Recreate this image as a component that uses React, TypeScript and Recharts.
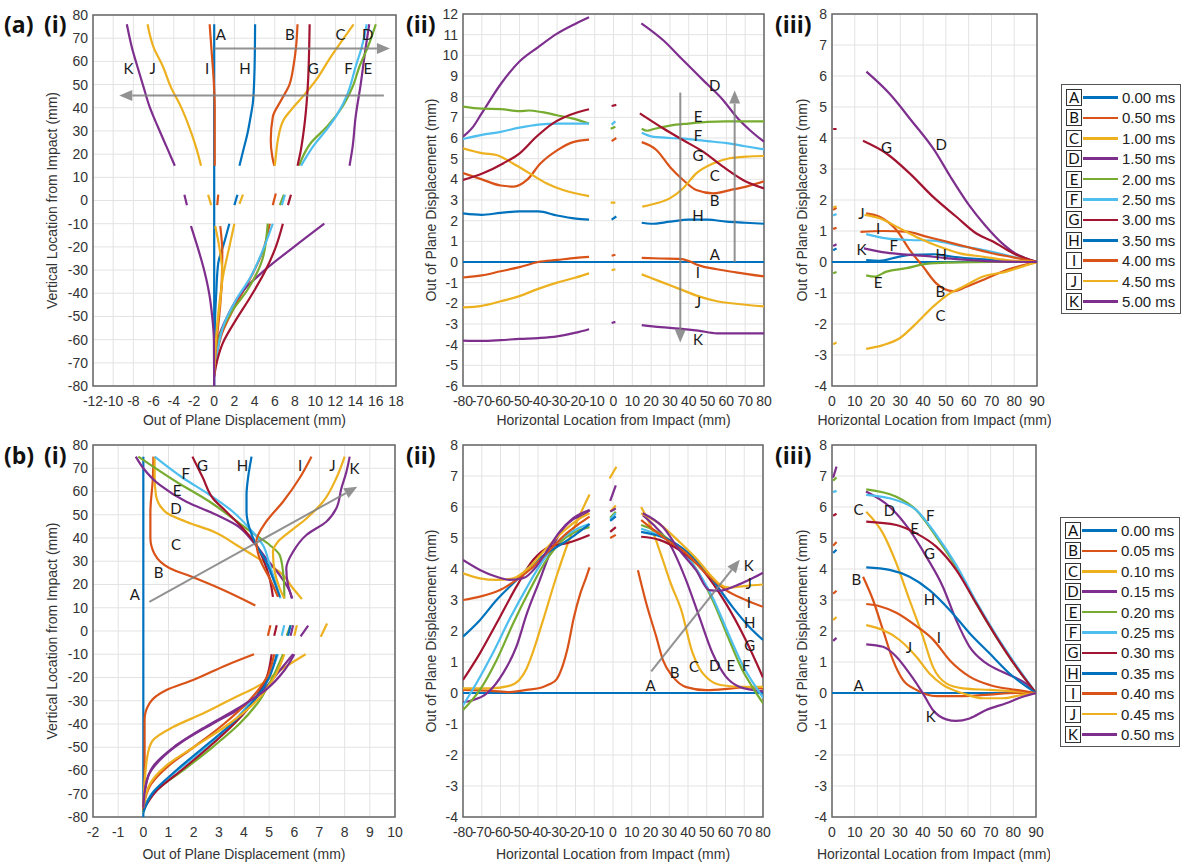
import React from 'react';
import {
  LineChart,
  Line,
  XAxis,
  YAxis,
  CartesianGrid,
  ReferenceArea,
  ReferenceDot,
  ReferenceLine,
} from 'recharts';

type P = [number, number];
type Seg = P[];

// series letters, colours and legend times
const LETTERS = ['A', 'B', 'C', 'D', 'E', 'F', 'G', 'H', 'I', 'J', 'K'];
const COLORS = ['#0072BD', '#D95319', '#EDB120', '#7E2F8E', '#77AC30', '#4DBEEE', '#A2142F', '#0072BD', '#D95319', '#EDB120', '#7E2F8E'];
const TIMES_A = ['0.00 ms', '0.50 ms', '1.00 ms', '1.50 ms', '2.00 ms', '2.50 ms', '3.00 ms', '3.50 ms', '4.00 ms', '4.50 ms', '5.00 ms'];
const TIMES_B = ['0.00 ms', '0.05 ms', '0.10 ms', '0.15 ms', '0.20 ms', '0.25 ms', '0.30 ms', '0.35 ms', '0.40 ms', '0.45 ms', '0.50 ms'];

// tick labels
const TICKS_VERT = [-80, -70, -60, -50, -40, -30, -20, -10, 0, 10, 20, 30, 40, 50, 60, 70, 80];
const TICKS_AI_X = [-12, -10, -8, -6, -4, -2, 0, 2, 4, 6, 8, 10, 12, 14, 16, 18];
const TICKS_BI_X = [-2, -1, 0, 1, 2, 3, 4, 5, 6, 7, 8, 9, 10];
const TICKS_HORIZ = [-80, -70, -60, -50, -40, -30, -20, -10, 0, 10, 20, 30, 40, 50, 60, 70, 80];
const TICKS_HALF = [0, 10, 20, 30, 40, 50, 60, 70, 80, 90];
const TICKS_AII_Y = [-6, -5, -4, -3, -2, -1, 0, 1, 2, 3, 4, 5, 6, 7, 8, 9, 10, 11, 12];
const TICKS_DISP_Y = [-4, -3, -2, -1, 0, 1, 2, 3, 4, 5, 6, 7, 8];

// (a)(i) vertical profiles: [displacement, vertical location], segments split at the gaps
const AI: Seg[][] = [
  [[[0, 76], [0, -80]]],
  [[[8.25, 76], [8.1, 66], [7.85, 58], [7.45, 50], [6.6, 43], [5.8, 36], [5.6, 26], [5.75, 19], [5.95, 15]], [[6.1, 3], [5.8, -2]], [[5.5, -10], [4.8, -22], [3.4, -35], [2.0, -46], [0.8, -57], [0.2, -68], [0, -75]]],
  [[[13.8, 76], [12.5, 68], [11.4, 61], [10.1, 52], [9.0, 46], [7.6, 39], [6.9, 35], [6.3, 26], [6.1, 19], [6.0, 15]], [[2.85, 2.5], [2.5, -1.5]], [[2.0, -10], [1.5, -20], [0.9, -32], [0.5, -45], [0.25, -56], [0, -70]]],
  [[[15.35, 76], [15.0, 66], [14.5, 50], [14.0, 36], [13.7, 23], [13.4, 15]], [[10.9, -10], [7.9, -20], [5.0, -30], [2.65, -40], [1.3, -50], [0.35, -60], [0, -70]]],
  [[[16.0, 76], [15.2, 66], [14.4, 58], [13.7, 49], [12.7, 40.5], [11.2, 32], [9.6, 25], [8.4, 15]], [[6.9, 2.5], [6.5, -2]], [[5.3, -10], [4.8, -25], [3.3, -38.5], [1.65, -48.5], [0.65, -57], [0.15, -69], [0, -75]]],
  [[[15.1, 76], [14.6, 66], [14.0, 57.7], [13.2, 46], [12.3, 38], [11.2, 31], [9.9, 24], [8.6, 15]], [[7.0, 2.5], [6.7, -2]], [[5.8, -10], [4.95, -20], [3.6, -33], [2.15, -43], [1.0, -53], [0.27, -66], [0, -74]]],
  [[[9.45, 76], [9.4, 65], [9.3, 52], [9.15, 42], [9.0, 35], [8.8, 28], [8.55, 21], [8.25, 15]], [[7.6, 2.5], [7.3, -2]], [[6.8, -10], [6.1, -20], [5.1, -30], [3.6, -41.5], [2.15, -51.5], [0.85, -61.5], [0.17, -71.5], [0, -76]]],
  [[[4.05, 76], [4.0, 58], [3.85, 43], [3.6, 36], [3.3, 29], [2.9, 22], [2.5, 15]], [[2.3, 2.5], [2.0, -2]], [[1.5, -10], [1.0, -18], [0.4, -27], [0.2, -40], [0.05, -55], [0, -70]]],
  [[[-0.45, 76], [-0.25, 64], [-0.05, 52], [0.05, 40], [0.05, 15]], [[0.4, 2.5], [0.3, -2]], [[0.6, -11], [0.8, -22], [0.75, -35], [0.6, -45], [0.3, -58], [0, -72]]],
  [[[-6.6, 76], [-6.0, 66], [-5.1, 58], [-4.3, 49], [-3.3, 40.5], [-2.5, 32], [-1.8, 23], [-1.3, 15]], [[-0.6, 2.5], [-0.3, -2]], [[0.1, -11], [0.5, -20], [0.8, -31], [0.6, -43], [0.33, -53], [0.1, -66], [0, -75]]],
  [[[-8.65, 76], [-8.15, 66], [-7.6, 57.7], [-7.0, 49], [-6.4, 40.5], [-5.6, 32], [-4.7, 23], [-3.9, 15]], [[-2.95, 2.5], [-2.7, -2]], [[-2.3, -11], [-1.65, -20], [-1.0, -30], [-0.5, -40], [-0.2, -50], [-0.03, -60], [0, -80]]],
];

// (a)(ii) horizontal profiles: [location, displacement]
const AII: Seg[][] = [
  [[[-80, 0], [80, 0]]],
  [[[-80, 4.3], [-70, 4.0], [-60, 3.7], [-53, 3.65], [-46, 3.97], [-39, 4.75], [-30, 5.4], [-21.5, 5.8], [-13, 5.92]], [[-1, 5.85], [1.5, 6.0]], [[15, 5.8], [22.8, 5.42], [30, 4.6], [37, 3.97], [44, 3.48], [53, 3.32], [62, 3.48], [70.6, 3.65], [80, 3.9]]],
  [[[-80, 5.5], [-69.4, 5.26], [-62.3, 5.18], [-53.4, 4.77], [-44.6, 4.29], [-35.7, 3.81], [-26.8, 3.48], [-13, 3.19]], [[-1.5, 2.87], [1, 2.87]], [[15.3, 2.68], [22.8, 2.84], [29.9, 3.08], [36.9, 3.56], [44, 4.29], [52.9, 4.77], [61.7, 5.02], [70.6, 5.1], [80, 5.13]]],
  [[[-80, 6.06], [-75, 6.5], [-70, 7.2], [-60, 8.6], [-50, 9.7], [-40, 10.4], [-30, 11.05], [-21.5, 11.47], [-13, 11.84]], [[14.8, 11.55], [26.3, 10.74], [36.9, 9.77], [47.6, 8.8], [58.2, 7.84], [65.3, 7.03], [72.4, 6.39], [80, 5.82]]],
  [[[-80, 7.52], [-70, 7.42], [-60, 7.4], [-50, 7.3], [-45, 7.33], [-38, 7.25], [-30, 7.1], [-22, 6.95], [-13, 6.7]], [[-1.5, 6.45], [1, 6.55]], [[15, 6.45], [18, 6.35], [22, 6.45], [30, 6.6], [40, 6.7], [50, 6.78], [60, 6.8], [70, 6.8], [80, 6.8]]],
  [[[-80, 5.95], [-70, 6.15], [-60, 6.3], [-50, 6.5], [-40, 6.65], [-30, 6.7], [-20, 6.7], [-13, 6.7]], [[-1, 6.65], [1, 6.8]], [[15, 6.25], [20, 6.08], [30, 6.0], [40, 5.95], [50, 5.85], [60, 5.75], [70, 5.6], [80, 5.45]]],
  [[[-80, 3.97], [-69.4, 4.29], [-58.7, 4.77], [-49.9, 5.26], [-41, 6.06], [-32.2, 6.71], [-23.3, 7.11], [-13, 7.39]], [[-1, 7.55], [1.5, 7.6]], [[14, 7.19], [26.3, 6.47], [36.9, 5.9], [47.6, 5.34], [58.2, 4.61], [68.8, 3.97], [80, 3.56]]],
  [[[-80, 2.35], [-70, 2.28], [-60, 2.38], [-50, 2.45], [-40, 2.45], [-30, 2.25], [-20, 2.1], [-13, 2.05]], [[-1, 2.05], [1.5, 2.2]], [[15, 1.9], [20, 1.85], [30, 1.95], [40, 2.05], [50, 2.05], [60, 1.95], [70, 1.9], [80, 1.85]]],
  [[[-80, -0.75], [-70, -0.65], [-60, -0.45], [-50, -0.25], [-40, 0.0], [-30, 0.1], [-20, 0.2], [-13, 0.25]], [[-1, 0.3], [1, 0.35]], [[15, 0.2], [25, 0.17], [35, 0.15], [40, 0.05], [45, -0.15], [55, -0.35], [65, -0.5], [80, -0.7]]],
  [[[-80, -2.2], [-70, -2.12], [-60, -1.9], [-50, -1.65], [-40, -1.3], [-30, -1.0], [-20, -0.75], [-13, -0.55]], [[-1, -0.4], [1, -0.35]], [[15, -0.6], [25, -0.95], [35, -1.3], [45, -1.65], [55, -1.9], [65, -2.02], [80, -2.15]]],
  [[[-80, -3.8], [-70, -3.82], [-60, -3.78], [-50, -3.72], [-40, -3.68], [-30, -3.6], [-20, -3.42], [-13, -3.25]], [[-1, -2.95], [1, -2.9]], [[15, -3.05], [25, -3.15], [35, -3.22], [45, -3.32], [55, -3.45], [65, -3.45], [80, -3.45]]],
];

// (a)(iii)
const AIII: Seg[][] = [
  [[[0, 0], [90, 0]]],
  [[[0.5, 1.68], [2, 1.75]], [[15, 1.57], [20.9, 1.46], [28.3, 1.03], [34.1, 0.39], [40, -0.15], [45.8, -0.69], [53.1, -0.94], [59, -0.8], [67.8, -0.53], [76.6, -0.26], [90, 0]]],
  [[[0.5, -2.65], [2, -2.6]], [[15, -2.8], [22.4, -2.68], [29.7, -2.46], [37, -1.98], [44.4, -1.44], [51.7, -1.01], [57.5, -0.8], [66.3, -0.47], [76.6, -0.31], [85.4, -0.1], [90, 0]]],
  [[[15.1, 6.14], [25, 5.45], [35, 4.55], [45, 3.6], [52, 2.75], [60, 1.85], [67, 1.2], [74, 0.65], [80, 0.3], [85, 0.12], [90, 0]]],
  [[[0.5, -0.36], [2, -0.32]], [[15, -0.43], [18.7, -0.47], [23.9, -0.31], [32.7, -0.2], [41.4, -0.06], [51.7, -0.02], [70, 0], [90, 0]]],
  [[[0.5, 1.5], [2, 1.55]], [[15, 0.9], [23.9, 0.76], [34.1, 0.71], [44.4, 0.69], [56.1, 0.52], [67.8, 0.37], [79.5, 0.17], [90, 0]]],
  [[[0.5, 4.29], [2, 4.29]], [[13.6, 3.91], [23.9, 3.5], [34.1, 2.86], [44.4, 2.1], [54.6, 1.46], [63.4, 0.92], [70.7, 0.66], [79.5, 0.28], [90, 0]]],
  [[[0.5, 0.38], [2, 0.44]], [[15, 0.06], [20.9, 0.04], [28.3, 0.15], [34.1, 0.23], [44.4, 0.25], [53.1, 0.17], [64.9, 0.09], [76.6, 0.03], [90, 0]]],
  [[[0.5, 1.07], [2, 1.1]], [[12.5, 0.97], [22.4, 1.0], [32.7, 0.98], [41.4, 0.82], [50.2, 0.66], [59, 0.49], [69.3, 0.3], [79.5, 0.15], [90, 0]]],
  [[[0.5, 1.76], [2, 1.8]], [[14.3, 1.52], [20.9, 1.41], [29.7, 1.09], [38.5, 0.76], [47.3, 0.49], [56.1, 0.28], [66.3, 0.17], [76.6, 0.06], [90, 0]]],
  [[[0.5, 0.52], [2, 0.57]], [[14, 0.44], [23.9, 0.3], [34.1, 0.23], [44.4, 0.17], [54.6, 0.09], [67.8, 0.03], [90, 0]]],
];

// (b)(i)
const BI: Seg[][] = [
  [[[0, 75], [0, -80]]],
  [[[0.4, 75], [0.38, 66], [0.28, 51], [0.28, 40], [0.45, 33], [1.05, 27], [2.0, 23], [3.0, 18.5], [4.45, 11]], [[4.4, -10], [3.3, -14.7], [2.0, -21], [0.9, -25.5], [0.25, -31], [0.05, -38], [0.05, -60], [0, -78]]],
  [[[0.45, 75], [0.45, 66], [0.5, 58.5], [0.9, 51], [1.7, 47], [2.8, 42.7], [3.7, 37], [4.6, 31], [5.4, 25.5], [5.95, 18.3], [6.3, 13.7]], [[7.3, 3.2], [7.05, -2.5]], [[6.45, -10], [5.42, -17], [4.62, -23.3], [3.56, -29], [2.37, -35.5], [1.18, -41.3], [0.38, -47], [0.18, -52.7], [0.05, -65.6], [0, -78]]],
  [[[-0.3, 75], [0, 70], [0.65, 62.8], [1.71, 55.6], [2.9, 50], [3.69, 45.6], [4.36, 38.4], [4.88, 31.2], [5.42, 24], [5.82, 17], [5.9, 14]], [[5.95, 2.5], [5.85, -2]], [[5.95, -10], [5.42, -17], [4.88, -24], [3.96, -32.6], [2.77, -39.8], [1.44, -48.4], [0.65, -55.6], [0.18, -62.8], [0, -76]]],
  [[[-0.2, 75], [1.31, 64.2], [2.64, 55.6], [3.56, 48.4], [4.36, 42], [5.02, 37], [5.42, 32.6], [5.55, 25.5], [5.6, 17], [5.6, 14]], [[5.85, 2.5], [5.7, -2]], [[5.55, -10], [5.15, -19.8], [4.62, -29.8], [3.83, -39.8], [2.77, -49.8], [1.58, -59.9], [0.51, -68.5], [0.1, -74], [0, -78]]],
  [[[0.45, 75], [1.58, 65.8], [2.64, 58.5], [3.56, 51.3], [4.22, 44.1], [4.75, 37], [5.02, 28.4], [5.28, 19.8], [5.45, 14]], [[5.6, 2.5], [5.5, -2]], [[5.35, -10], [4.95, -20], [4.3, -30], [3.5, -40], [2.5, -50], [1.35, -60], [0.4, -69], [0, -78]]],
  [[[1.95, 75], [2.37, 65.8], [2.77, 57], [3.3, 51.3], [3.96, 44.1], [4.49, 37], [4.75, 31.2], [5.02, 22.6], [5.15, 14.7]], [[5.3, 2.5], [5.2, -2]], [[5.1, -10], [4.9, -20], [4.4, -30], [3.6, -40], [2.6, -50], [1.5, -60], [0.5, -69], [0, -77]]],
  [[[4.3, 75], [4.16, 65.8], [4.1, 58.5], [4.1, 51.3], [4.22, 44.1], [4.49, 37], [4.88, 29.8], [5.15, 22.6], [5.42, 14.7]], [[5.85, 2.5], [5.75, -2]], [[5.3, -10], [5.0, -20], [4.4, -30], [3.5, -40], [2.4, -50], [1.3, -60], [0.35, -70], [0, -78]]],
  [[[6.68, 75], [6.21, 65.8], [5.55, 55.6], [4.88, 47], [4.49, 38.4], [4.62, 31.2], [5.02, 22.6], [5.35, 14.7]], [[5.05, 2.5], [4.95, -2]], [[5.2, -10], [4.9, -20], [4.2, -30], [3.2, -40], [2.0, -50], [1.0, -58], [0.3, -66], [0, -76]]],
  [[[8.0, 75], [7.67, 65.8], [7.14, 55.6], [6.48, 48.4], [5.82, 42.7], [5.35, 38.4], [5.15, 34], [5.22, 25.5], [5.42, 18.3], [5.6, 14]], [[6.1, 2.5], [6.0, -2]], [[5.6, -10], [5.2, -20], [4.5, -30], [3.4, -40], [2.0, -50], [0.9, -58], [0.25, -66], [0, -76]]],
  [[[8.2, 75], [8.07, 68.5], [7.87, 61.4], [7.67, 52.8], [7.27, 47], [6.48, 41.3], [5.95, 34.1], [5.68, 27], [5.75, 19.8], [5.92, 14]], [[6.55, 2.3], [6.25, -2.3]], [[6.0, -10], [5.6, -17], [4.9, -25], [3.8, -33], [2.5, -41], [1.2, -50], [0.4, -58], [0.1, -66], [0, -76]]],
];

// (b)(ii)
const BII: Seg[][] = [
  [[[-80, 0], [80, 0]]],
  [[[-80, 0.1], [-65, 0.07], [-55, 0.03], [-46, 0.1], [-38, 0.18], [-34, 0.28], [-30, 0.45], [-27, 0.85], [-24, 1.5], [-21, 2.4], [-17.5, 3.2], [-14.5, 3.7], [-12.5, 4.05]], [[13.3, 3.96], [17.8, 2.88], [23.1, 1.81], [26.7, 1.05], [32, 0.52], [39.1, 0.19], [49.8, 0.09], [62.2, 0.14], [71.1, 0.19], [80, 0.14]]],
  [[[-80, 0.15], [-65, 0.15], [-56, 0.22], [-50, 0.42], [-46, 0.8], [-44, 1.1], [-37.3, 2.35], [-30.2, 3.75], [-23, 5.0], [-18, 5.7], [-12.5, 6.4]], [[-1.8, 6.92], [1.8, 7.3]], [[15, 6.0], [20, 5.4], [26.5, 4.3], [31, 3.5], [36.3, 2.7], [42.4, 1.3], [46, 0.8], [50, 0.5], [58, 0.25], [70, 0.2], [80, 0.2]]],
  [[[-80, -0.3], [-76, -0.25], [-67, 0], [-58.6, 0.64], [-51.5, 1.5], [-46, 2.55], [-39, 3.65], [-33.7, 4.5], [-28.4, 5.15], [-21.4, 5.6], [-14.2, 5.8], [-12.5, 5.9]], [[-1.5, 6.2], [1.5, 6.7]], [[15.9, 5.74], [22, 5.4], [30, 4.83], [38.9, 3.65], [46, 2.46], [53.1, 1.28], [60.2, 0.53], [67.3, 0.2], [74.3, 0.1], [80, 0.05]]],
  [[[-80, -0.55], [-71, 0.1], [-62.1, 1.06], [-53.2, 2.25], [-44.4, 3.32], [-35.5, 4.29], [-26.7, 4.94], [-17.8, 5.26], [-12.5, 5.35]], [[-1.5, 5.65], [1.5, 5.85]], [[15, 5.42], [22, 5.25], [30, 4.94], [42.4, 4.18], [53.1, 3.0], [62, 1.71], [69, 0.74], [74.3, 0.2], [80, -0.33]]],
  [[[-80, -0.4], [-73, 0.3], [-64, 1.3], [-55, 2.4], [-46, 3.4], [-37, 4.3], [-28, 4.95], [-19, 5.3], [-12.5, 5.45]], [[-1.5, 5.6], [1.5, 5.8]], [[15, 5.3], [22, 5.15], [30, 4.9], [42, 4.2], [53, 3.1], [62, 1.85], [70, 0.8], [75, 0.3], [80, -0.15]]],
  [[[-80, 0.42], [-71, 1.28], [-62.1, 2.25], [-51.5, 3.43], [-42.6, 4.29], [-33.7, 4.72], [-24.8, 4.83], [-12.5, 5.1]], [[-1.5, 5.2], [1.5, 5.35]], [[15, 5.04], [24.7, 4.94], [35.4, 4.61], [47.8, 3.97], [60.2, 2.89], [70.8, 1.71], [80, 0.5]]],
  [[[-80, 1.82], [-71, 2.35], [-62.1, 3.0], [-53.2, 3.54], [-44.4, 4.07], [-35.5, 4.51], [-26.7, 4.83], [-12.5, 5.45]], [[-1.5, 5.55], [1.5, 5.7]], [[15, 5.2], [30, 4.94], [42.4, 4.4], [53.1, 3.65], [63.7, 2.78], [72.6, 2.14], [80, 1.71]]],
  [[[-80, 3.0], [-71, 3.11], [-60.3, 3.32], [-51.5, 3.65], [-42.6, 4.07], [-33.7, 4.61], [-24.8, 5.15], [-17.8, 5.47], [-12.5, 5.69]], [[-1.5, 5.0], [1.5, 5.1]], [[15, 5.58], [26.5, 5.04], [38.9, 4.51], [49.6, 3.86], [60.2, 3.32], [70.8, 3.0], [80, 2.78]]],
  [[[-80, 3.86], [-71, 3.7], [-62.1, 3.65], [-53.2, 3.7], [-44.4, 4.07], [-35.5, 4.67], [-26.7, 5.2], [-17.8, 5.63], [-12.5, 5.8]], [[-1.5, 5.85], [1.5, 6.05]], [[15, 5.8], [25, 5.45], [35, 4.9], [45, 4.3], [52, 3.8], [57, 3.5], [62, 3.4], [70, 3.45], [80, 3.5]]],
  [[[-80, 4.29], [-71, 3.97], [-62.1, 3.75], [-55, 3.65], [-48, 3.7], [-41, 4.07], [-35.5, 4.56], [-28.4, 5.2], [-21.4, 5.63], [-12.5, 5.9]], [[-1.5, 5.85], [1.5, 5.95]], [[15.9, 5.8], [26.5, 5.36], [35.4, 4.61], [44.2, 3.97], [51.3, 3.32], [56.6, 3.3], [65.5, 3.46], [74.3, 3.7], [80, 3.88]]],
];

// (b)(iii)
const BIII: Seg[][] = [
  [[[0, 0], [90, 0]]],
  [[[0.5, 4.75], [2, 4.87]], [[13.7, 3.75], [18.1, 3.0], [22.5, 2.03], [26.9, 1.06], [31.3, 0.42], [37.2, 0.1], [46, -0.1], [57.7, -0.1], [69.5, -0.05], [81, 0], [90, 0]]],
  [[[15.1, 5.85], [22.5, 5.15], [28.4, 4.18], [34.2, 3.0], [40.1, 1.82], [44.5, 0.85], [50.4, 0.31], [57.7, 0.15], [69.5, 0.1], [81, 0.05], [90, 0]]],
  [[[0.5, 6.95], [2, 7.3]], [[15, 6.5], [25.4, 6.01], [34.2, 5.26], [41.6, 4.4], [48.9, 3.43], [54.8, 2.35], [60.7, 1.49], [68, 0.96], [76.8, 0.63], [85.6, 0.3], [90, 0]]],
  [[[0.5, 6.85], [2, 6.95]], [[15.1, 6.57], [28.4, 6.33], [37.2, 5.9], [46, 5.04], [54.8, 4.07], [63.6, 2.89], [72.4, 1.82], [81.2, 0.85], [90, 0]]],
  [[[0.5, 6.48], [2, 6.52]], [[15.1, 6.39], [28.4, 6.22], [37.2, 5.9], [46, 5.1], [54.8, 4.13], [63.6, 2.95], [72.4, 1.87], [81.2, 0.9], [90, 0]]],
  [[[0.5, 5.72], [2, 5.78]], [[15.1, 5.53], [28.4, 5.42], [37.2, 5.15], [46, 4.72], [54.8, 3.97], [63.6, 2.89], [72.4, 1.82], [81.2, 0.85], [90, 0]]],
  [[[0.5, 4.52], [2, 4.62]], [[15.1, 4.05], [25.4, 3.97], [34.2, 3.75], [43, 3.32], [51.9, 2.68], [60.7, 1.93], [69.5, 1.28], [78.3, 0.63], [90, 0]]],
  [[[0.5, 3.2], [2, 3.3]], [[15.1, 2.87], [21, 2.8], [28.4, 2.59], [37.2, 2.16], [44.5, 1.73], [51.9, 1.06], [60.7, 0.53], [69.5, 0.26], [81.2, 0.1], [90, 0]]],
  [[[0.5, 2.35], [2, 2.45]], [[15.1, 2.19], [22.5, 2.03], [29.8, 1.71], [37.2, 1.17], [43, 0.63], [48.9, 0.26], [57.7, -0.01], [66.5, -0.17], [75.3, -0.17], [84, -0.06], [90, 0]]],
  [[[0.5, 1.68], [2, 1.78]], [[15.1, 1.57], [22.5, 1.49], [28.4, 1.17], [34.2, 0.63], [40.1, -0.01], [44.5, -0.55], [50.4, -0.85], [54.8, -0.9], [60.7, -0.82], [68, -0.55], [76.8, -0.33], [84.2, -0.12], [90, 0]]],
];

// letter annotation positions (data coordinates), A..K; null = not shown
const LAB_AI: (P | null)[] = [[0.65, 72], [7.5, 72], [12.5, 72], [15.2, 72], [15.2, 57], [13.3, 57], [9.8, 57], [3.05, 57], [-0.7, 57], [-6.1, 57], [-8.5, 57]];
const LAB_AII: (P | null)[] = [[53.8, 0.4], [53.8, 3.0], [53.8, 4.2], [53.8, 8.56], [44.9, 7.06], [44.9, 6.15], [44.9, 5.18], [44.9, 2.27], [44.9, -0.47], [44.9, -1.92], [44.9, -3.74]];
const LAB_AIII: (P | null)[] = [null, [47.6, -0.94], [47.6, -1.71], [48, 3.8], [20.2, -0.63], [27.1, 0.55], [23.9, 3.72], [48, 0.26], [20.2, 1.09], [12.9, 1.57], [12.9, 0.41]];
const LAB_BI: (P | null)[] = [[-0.34, 16.1], [0.61, 25.4], [1.3, 37.6], [1.3, 52.7], [1.34, 60.8], [1.69, 67.9], [2.35, 71.2], [3.94, 71.2], [6.23, 71.2], [7.51, 71.2], [8.39, 70.2]];
const LAB_BII: (P | null)[] = [[20.1, 0.25], [32.9, 0.68], [43.2, 0.87], [54.2, 0.91], [62.8, 0.91], [71.1, 0.91], [72.9, 1.55], [72.9, 2.3], [72.4, 2.92], [72.4, 3.56], [72.4, 4.12]];
const LAB_BIII: (P | null)[] = [[11.7, 0.25], [10.7, 3.69], [11.7, 5.95], [25.4, 5.9], [36.4, 5.31], [43.3, 5.74], [43, 4.53], [43, 3.02], [47.1, 1.81], [33.9, 1.49], [43.5, -0.75]];

// gray arrows: [from, to]
const ARR_AI: [P, P][] = [[[0, 65.5], [17.4, 65.5]], [[16.8, 45.3], [-9.4, 45.3]]];
const ARR_AII: [P, P][] = [[[35.5, 8.2], [35.5, -3.9]], [[64.4, 0], [64.4, 8.3]]];
const ARR_BI: [P, P][] = [[[0.24, 12.5], [8.5, 62]]];
const ARR_BII: [P, P][] = [[[20.4, 0.7], [67.6, 4.3]]];

const AXIS_FONT = "'Liberation Sans', Arial, sans-serif";
const NOTE_FONT = "Lato, 'Open Sans', sans-serif";

function toRows(segs: Seg[]) {
  const rows: { x: number; y: number | null }[] = [];
  segs.forEach((s, i) => {
    if (i > 0) rows.push({ x: s[0][0], y: null });
    s.forEach(([x, y]) => rows.push({ x, y }));
  });
  return rows;
}

const arrowShape = (p: any) => {
  const { x1, y1, x2, y2 } = p;
  const a = Math.atan2(y2 - y1, x2 - x1);
  const L = 13;
  const W = 5.5;
  const bx = x2 - L * Math.cos(a);
  const by = y2 - L * Math.sin(a);
  const pts = `${x2},${y2} ${bx + W * Math.sin(a)},${by - W * Math.cos(a)} ${bx - W * Math.sin(a)},${by + W * Math.cos(a)}`;
  return (
    <g opacity={0.85}>
      <line x1={x1} y1={y1} x2={bx} y2={by} stroke="#808080" strokeWidth={2} />
      <polygon points={pts} fill="#808080" />
    </g>
  );
};

interface PanelProps {
  px: number; py: number; pw: number; ph: number;
  xd: [number, number]; yd: [number, number];
  xt: number[]; yt: number[];
  series: Seg[][];
  labels: (P | null)[];
  arrows: [P, P][];
  curve: 'monotone' | 'monotoneY';
  xTitle: string; yTitle: string; yTitleX: number; xAxisH: number;
}

const Panel: React.FC<PanelProps> = ({ px, py, pw, ph, xd, yd, xt, yt, series, labels, arrows, curve, xTitle, yTitle, yTitleX, xAxisH }) => {
  const YW = 55, MT = 10, MR = 14, MB = 6;
  const left = px - YW;
  return (
    <div style={{ position: 'absolute', left, top: py - MT }}>
      <LineChart width={YW + pw + MR} height={MT + ph + xAxisH + MB} margin={{ top: MT, right: MR, bottom: MB, left: 0 }}>
        <CartesianGrid stroke="#e3e3e3" strokeWidth={1} />
        <XAxis
          type="number" dataKey="x" domain={xd} ticks={xt} interval={0} allowDataOverflow
          axisLine={false} tickLine={false} tickSize={0} tickMargin={10} height={xAxisH}
          tick={{ fill: '#333', fontSize: 14, fontFamily: AXIS_FONT }}
          label={{ value: xTitle, position: 'insideBottom', offset: 0, fill: '#333', fontSize: 14, fontFamily: AXIS_FONT }}
        />
        <YAxis
          type="number" domain={yd} ticks={yt} interval={0} allowDataOverflow width={YW}
          axisLine={false} tickLine={false} tickSize={0} tickMargin={5}
          tick={{ fill: '#333', fontSize: 14, fontFamily: AXIS_FONT }}
          label={{ value: yTitle, angle: -90, position: 'insideLeft', offset: yTitleX - left, fill: '#333', fontSize: 14, fontFamily: AXIS_FONT, style: { textAnchor: 'middle' } }}
        />
        {series.map((segs, i) => (
          <Line
            key={LETTERS[i]} data={toRows(segs)} dataKey="y" type={curve}
            stroke={COLORS[i]} strokeWidth={2.2} dot={false} activeDot={false}
            connectNulls={false} isAnimationActive={false}
          />
        ))}
        {arrows.map(([a, b], i) => (
          <ReferenceLine key={`arr${i}`} segment={[{ x: a[0], y: a[1] }, { x: b[0], y: b[1] }]} ifOverflow="visible" shape={arrowShape} />
        ))}
        {labels.map((p, i) =>
          p ? (
            <ReferenceDot
              key={`lab${i}`} x={p[0]} y={p[1]} r={0} ifOverflow="visible"
              shape={(d: any) => (
                <text x={d.cx} y={d.cy} textAnchor="middle" dominantBaseline="central" fill="#1a1a1a" fontSize={15} fontFamily={NOTE_FONT}>
                  {LETTERS[i]}
                </text>
              )}
            />
          ) : null
        )}
        <ReferenceArea x1={xd[0]} x2={xd[1]} y1={yd[0]} y2={yd[1]} fill="none" stroke="#666" strokeWidth={1.5} ifOverflow="visible" />
      </LineChart>
    </div>
  );
};

const LegendBox: React.FC<{ left: number; top: number; times: string[] }> = ({ left, top, times }) => (
  <div style={{ position: 'absolute', left, top, width: 120, height: 230, border: '1px solid #555', background: '#fff', boxSizing: 'border-box' }}>
    {LETTERS.map((L, i) => (
      <div key={L} style={{ position: 'absolute', left: 4, top: 4 + i * 20.4, height: 17, display: 'flex', alignItems: 'center' }}>
        <div style={{ width: 16, height: 17, border: '1px solid #333', boxSizing: 'border-box', display: 'flex', alignItems: 'center', justifyContent: 'center', fontFamily: NOTE_FONT, fontSize: 15, color: '#111', lineHeight: 1 }}>
          {L}
        </div>
        <div style={{ width: 35, height: 2.5, background: COLORS[i], marginLeft: 1 }} />
        <span style={{ marginLeft: 4, fontFamily: AXIS_FONT, fontSize: 15, color: '#222', whiteSpace: 'nowrap' }}>{times[i]}</span>
      </div>
    ))}
  </div>
);

const PANEL_TAGS: { t: string; x: number; y: number }[] = [
  { t: '(a)', x: 4, y: 33 }, { t: '(i)', x: 44, y: 33 }, { t: '(ii)', x: 406, y: 33 }, { t: '(iii)', x: 775, y: 33 },
  { t: '(b)', x: 4, y: 464 }, { t: '(i)', x: 44, y: 464 }, { t: '(ii)', x: 406, y: 464 }, { t: '(iii)', x: 775, y: 464 },
];

export default function App() {
  const vTitle = 'Vertical Location from Impact (mm)';
  const dTitle = 'Out of Plane Displacement (mm)';
  const hTitle = 'Horizontal Location from Impact (mm)';
  return (
    <div style={{ position: 'absolute', left: 0, top: 0, width: 1189, height: 866, background: '#fff', overflow: 'hidden' }}>
      <Panel px={93} py={15} pw={303} ph={371} xd={[-12, 18]} yd={[-80, 80]} xt={TICKS_AI_X} yt={TICKS_VERT}
        series={AI} labels={LAB_AI} arrows={ARR_AI} curve="monotoneY" xTitle={dTitle} yTitle={vTitle} yTitleX={52} xAxisH={39} />
      <Panel px={463} py={14} pw={301} ph={372} xd={[-80, 80]} yd={[-6, 12]} xt={TICKS_HORIZ} yt={TICKS_AII_Y}
        series={AII} labels={LAB_AII} arrows={ARR_AII} curve="monotone" xTitle={hTitle} yTitle={dTitle} yTitleX={431} xAxisH={39} />
      <Panel px={832} py={14} pw={205} ph={372} xd={[0, 90]} yd={[-4, 8]} xt={TICKS_HALF} yt={TICKS_DISP_Y}
        series={AIII} labels={LAB_AIII} arrows={[]} curve="monotone" xTitle={hTitle} yTitle={dTitle} yTitleX={802} xAxisH={39} />
      <Panel px={93} py={445} pw={302} ph={372} xd={[-2, 10]} yd={[-80, 80]} xt={TICKS_BI_X} yt={TICKS_VERT}
        series={BI} labels={LAB_BI} arrows={ARR_BI} curve="monotoneY" xTitle={dTitle} yTitle={vTitle} yTitleX={52} xAxisH={42} />
      <Panel px={463} py={445} pw={300} ph={372} xd={[-80, 80]} yd={[-4, 8]} xt={TICKS_HORIZ} yt={TICKS_DISP_Y}
        series={BII} labels={LAB_BII} arrows={ARR_BII} curve="monotone" xTitle={hTitle} yTitle={dTitle} yTitleX={431} xAxisH={42} />
      <Panel px={832} py={445} pw={204} ph={372} xd={[0, 90]} yd={[-4, 8]} xt={TICKS_HALF} yt={TICKS_DISP_Y}
        series={BIII} labels={LAB_BIII} arrows={[]} curve="monotone" xTitle={hTitle} yTitle={dTitle} yTitleX={802} xAxisH={42} />
      <LegendBox left={1061} top={84} times={TIMES_A} />
      <LegendBox left={1060} top={517} times={TIMES_B} />
      <svg width={1189} height={866} style={{ position: 'absolute', left: 0, top: 0, pointerEvents: 'none' }}>
        {PANEL_TAGS.map((p, i) => (
          <text key={i} x={p.x} y={p.y} fontFamily="'Open Sans', sans-serif" fontWeight={700} fontSize={23} fill="#111">
            {p.t}
          </text>
        ))}
      </svg>
    </div>
  );
}
